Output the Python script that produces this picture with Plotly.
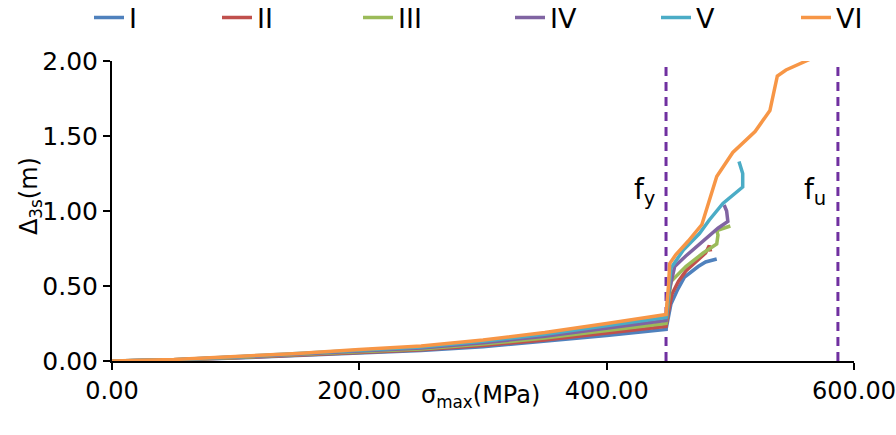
import plotly.graph_objects as go

# Displacement vs. maximum stress for six cases
names = ["I", "II", "III", "IV", "V", "VI"]
colors = ["#4F81BD", "#C0504D", "#9BBB59", "#8064A2", "#4BACC6", "#F79646"]

# elastic branch (common stress stations, MPa)
pre_x = [0, 50, 100, 150, 200, 250, 300, 350, 400, 448]
pre_I = [0, 0.007, 0.020, 0.035, 0.052, 0.070, 0.095, 0.130, 0.170, 0.21]
pre_II = [0, 0.007, 0.022, 0.037, 0.056, 0.075, 0.104, 0.140, 0.185, 0.23]
pre_III = [0, 0.008, 0.024, 0.040, 0.061, 0.080, 0.113, 0.153, 0.200, 0.25]
pre_IV = [0, 0.009, 0.026, 0.044, 0.066, 0.087, 0.122, 0.165, 0.218, 0.27]
pre_V = [0, 0.009, 0.028, 0.047, 0.071, 0.094, 0.131, 0.178, 0.234, 0.29]
pre_VI = [0, 0.010, 0.030, 0.050, 0.076, 0.100, 0.140, 0.190, 0.250, 0.31]

# post-yield branch
post_x_I = [450, 452, 457, 463, 474, 480, 489]
post_y_I = [0.30, 0.38, 0.47, 0.56, 0.63, 0.66, 0.68]
post_x_II = [450, 453, 458, 464, 476, 480, 483, 484]
post_y_II = [0.33, 0.45, 0.53, 0.60, 0.69, 0.72, 0.77, 0.73]
post_x_III = [450, 452, 464, 478, 489, 490, 489, 500]
post_y_III = [0.40, 0.53, 0.63, 0.72, 0.78, 0.84, 0.87, 0.90]
post_x_IV = [450, 455, 464, 480, 490, 498, 497, 495]
post_y_IV = [0.45, 0.63, 0.70, 0.81, 0.885, 0.93, 1.00, 1.04]
post_x_V = [450, 452, 462, 475, 483, 494, 510, 510, 507]
post_y_V = [0.45, 0.62, 0.74, 0.85, 0.94, 1.05, 1.16, 1.25, 1.33]
post_x_VI = [450, 451, 456, 466, 477, 485, 489, 502, 520, 532, 536, 538, 545, 564]
post_y_VI = [0.50, 0.65, 0.71, 0.80, 0.91, 1.12, 1.23, 1.39, 1.53, 1.67, 1.81, 1.90, 1.94, 2.01]

# yield and ultimate strength (MPa)
FY = 448
FU = 587

pre_ys = [pre_I, pre_II, pre_III, pre_IV, pre_V, pre_VI]
post_xs = [post_x_I, post_x_II, post_x_III, post_x_IV, post_x_V, post_x_VI]
post_ys = [post_y_I, post_y_II, post_y_III, post_y_IV, post_y_V, post_y_VI]

FONT = "DejaVu Sans"
DASH_COLOR = "#7030A0"

fig = go.Figure()

# strength limits as dashed verticals
for xv in (FY, FU):
    fig.add_trace(go.Scatter(
        x=[xv, xv], y=[0, 2], mode="lines", showlegend=False, hoverinfo="skip",
        line=dict(color=DASH_COLOR, width=3, dash="9px,6px"),
    ))

# one single-entry legend per series, laid out across the top
legend_left_px = [89, 217, 358, 510, 656, 796]
legend_layout = {}
for i, (nm, col) in enumerate(zip(names, colors)):
    lg = "legend" if i == 0 else f"legend{i + 1}"
    fig.add_trace(go.Scatter(
        x=pre_x + post_xs[i], y=pre_ys[i] + post_ys[i], mode="lines", name=nm,
        line=dict(color=col, width=3.5), legend=lg,
    ))
    legend_layout[lg] = dict(
        xref="container", yref="container",
        x=legend_left_px[i] / 896, xanchor="left", y=1 - 18 / 435, yanchor="middle",
        orientation="h", bgcolor="rgba(0,0,0,0)",
        font=dict(family=FONT, size=27, color="#000"),
    )

fig.update_layout(
    width=896, height=435,
    margin=dict(l=112, r=42, t=61, b=74),
    plot_bgcolor="white", paper_bgcolor="white",
    font=dict(family=FONT, size=24, color="#000"),
    **legend_layout,
)

fig.update_xaxes(
    range=[0, 600], tickvals=[0, 200, 400, 600], tickformat=".2f",
    showgrid=False, zeroline=False, showline=True, linecolor="#000", linewidth=2,
    ticks="outside", ticklen=7, tickwidth=2, tickcolor="#000", automargin=False,
    tickfont=dict(family=FONT, size=24, color="#000"),
)
fig.update_yaxes(
    range=[0, 2], tickvals=[0, 0.5, 1.0, 1.5, 2.0], tickformat=".2f",
    ticksuffix="\u00a0",
    showgrid=False, zeroline=False, showline=True, linecolor="#000", linewidth=2,
    ticks="outside", ticklen=7, tickwidth=2, tickcolor="#000", automargin=False,
    tickfont=dict(family=FONT, size=25, color="#000"),
)

annos = [
    dict(text="Δ<sub>3s</sub>(m)", xref="paper", yref="paper", x=-0.134, y=0.55,
         textangle=-90, showarrow=False, font=dict(family=FONT, size=24, color="#000")),
    dict(text="σ<sub>max</sub>(MPa)", xref="paper", yref="paper", x=0.496, y=-0.175,
         showarrow=False, font=dict(family=FONT, size=24, color="#000")),
    dict(text="f<sub>y</sub>", xref="x", yref="y", x=FY, y=1.13, xanchor="right",
         xshift=-8, showarrow=False, font=dict(family=FONT, size=28, color="#000")),
    dict(text="f<sub>u</sub>", xref="x", yref="y", x=FU, y=1.13, xanchor="right",
         xshift=-10, showarrow=False, font=dict(family=FONT, size=28, color="#000")),
]
fig.update_layout(annotations=annos)

fig.write_html("out.html")
